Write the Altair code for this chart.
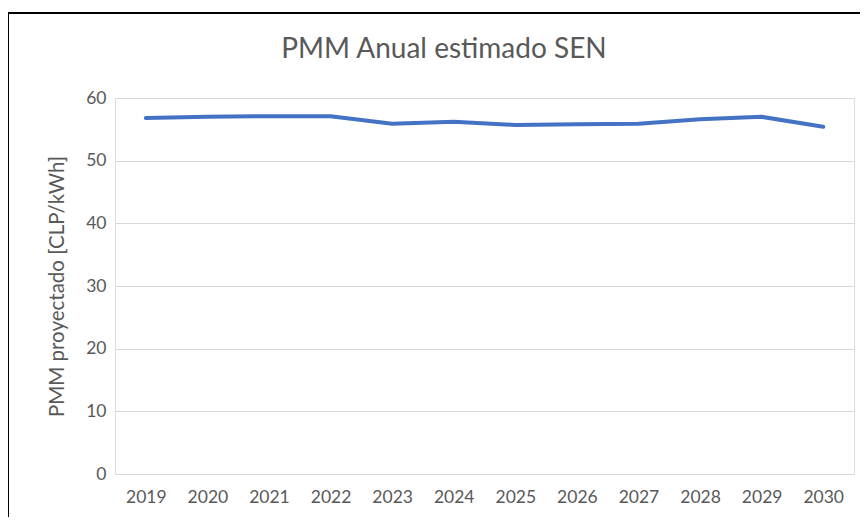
import altair as alt
import pandas as pd

years = ["2019", "2020", "2021", "2022", "2023", "2024", "2025", "2026", "2027", "2028", "2029", "2030"]
pmm = [56.8, 57.0, 57.1, 57.1, 55.9, 56.2, 55.7, 55.8, 55.9, 56.6, 57.0, 55.4]
title_text = ["PMM Anual estimado SEN"]

df = pd.DataFrame({"year": years, "pmm": pmm})
tdf = pd.DataFrame({"t": title_text})

FONT = "Lato"
GRAY = "#595959"

line = alt.Chart(df).mark_line(color="#4472C4", strokeWidth=4, strokeCap="round", strokeJoin="round").encode(
    x=alt.X("year:N", sort=years, title=None,
            scale=alt.Scale(paddingInner=0, paddingOuter=0.5),
            axis=alt.Axis(labelAngle=0, domain=False, ticks=False, grid=False,
                          labelFont=FONT, labelFontSize=17.5, labelColor=GRAY, labelPadding=14)),
    y=alt.Y("pmm:Q", title="PMM proyectado [CLP/kWh]",
            scale=alt.Scale(domain=[0, 60], nice=False),
            axis=alt.Axis(values=[0, 10, 20, 30, 40, 50, 60], domain=False, ticks=False,
                          grid=True, gridColor="#d9d9d9", gridWidth=1,
                          labelFont=FONT, labelFontSize=17.5, labelColor=GRAY, labelPadding=9,
                          titleFont=FONT, titleFontSize=20.5, titleColor=GRAY, titleFontWeight="normal",
                          titlePadding=18)),
)

title = alt.Chart(tdf).mark_text(font=FONT, fontSize=28, color=GRAY, align="center", baseline="middle").encode(
    text="t:N", x=alt.value(329), y=alt.value(-48)
)

frame_top = alt.Chart(df).mark_rule(color="black", strokeWidth=2).encode(
    x=alt.value(-108), x2=alt.value(760), y=alt.value(-85)
)
frame_left = alt.Chart(df).mark_rule(color="black", strokeWidth=2).encode(
    x=alt.value(-107), y=alt.value(-86), y2=alt.value(440)
)

chart = alt.layer(line, title, frame_top, frame_left).properties(
    width=739, height=376,
    padding={"left": 107, "top": 90, "right": 6, "bottom": 43},
    autosize=alt.AutoSizeParams(type="none"),
).configure_view(stroke=None).configure(background="white")

chart.save("out.html", embed_options={"renderer": "svg", "actions": False})
